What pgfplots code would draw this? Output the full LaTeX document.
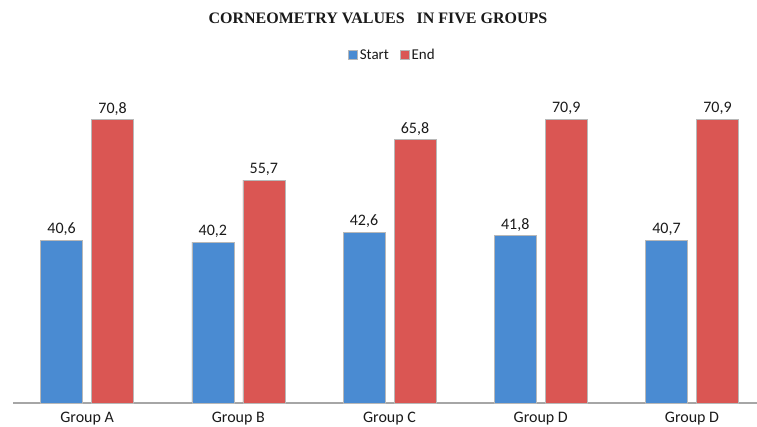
\documentclass[border=0pt]{standalone}
\usepackage{pgfplots}
\pgfplotsset{compat=1.18}
\usepackage{fontspec}
\setmainfont{Carlito}
\newfontfamily\titlefont{Liberation Serif}
\definecolor{bFill}{HTML}{4A8BD2}
\definecolor{rFill}{HTML}{DA5653}
\definecolor{barEdge}{HTML}{B8B8B8}
\definecolor{axisgray}{HTML}{A6A6A6}
\definecolor{txt}{HTML}{1A1A1A}
\begin{document}
\begin{tikzpicture}
\begin{axis}[
  scale only axis,
  width=744pt, height=320pt,
  xmin=-0.49, xmax=4.43,
  ymin=0, ymax=80,
  ybar=9pt, bar width=42pt,
  axis x line*=bottom,
  axis y line=none,
  x axis line style={axisgray, line width=1.4pt, -},
  xtick={0,1,2,3,4},
  xticklabels={Group A,Group B,Group C,Group D,Group D},
  xtick style={draw=none},
  x tick label style={font=\fontsize{16}{18}\selectfont, text=txt, yshift=-1pt},
  nodes near coords,
  point meta=explicit symbolic,
  every node near coord/.append style={font=\fontsize{16}{18}\selectfont, text=txt, yshift=1pt},
  legend style={at={(axis description cs:0.510,1.0875)}, anchor=center, draw=none,
    legend columns=2, font=\fontsize{15}{17}\selectfont, text=txt,
    /tikz/every even column/.append style={column sep=9pt}},
  legend image code/.code={\fill[#1] (0pt,-4.5pt) rectangle (9pt,4.5pt);},
  clip=false,
]
\addplot[draw=barEdge, line width=0.6pt, fill=bFill]
  coordinates {(0,40.6) [40,6] (1,40.2) [40,2] (2,42.6) [42,6] (3,41.8) [41,8] (4,40.7) [40,7]};
\addplot[draw=barEdge, line width=0.6pt, fill=rFill]
  coordinates {(0,70.8) [70,8] (1,55.7) [55,7] (2,65.8) [65,8] (3,70.9) [70,9] (4,70.9) [70,9]};
\legend{Start,End}
\node[font=\titlefont\bfseries\fontsize{16}{18}\selectfont, text=txt] at (axis description cs:0.4906,1.203) {CORNEOMETRY VALUES\ \ \ IN FIVE GROUPS};
\end{axis}
\pgfresetboundingbox
\path (-13pt,-24pt) rectangle (744pt,403pt);
\end{tikzpicture}
\end{document}
